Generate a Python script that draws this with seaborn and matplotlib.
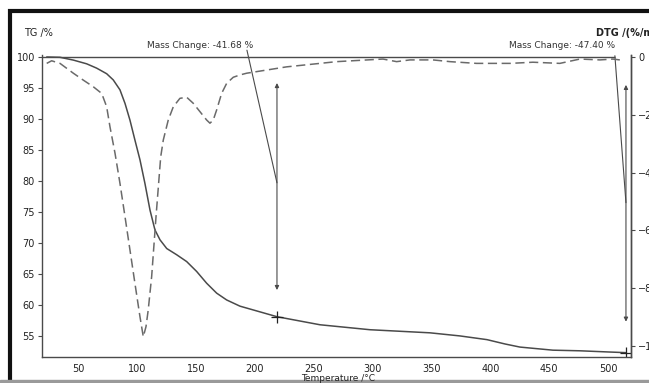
import numpy as np
import pandas as pd
import matplotlib.pyplot as plt
import seaborn as sns
from matplotlib.patches import Rectangle

# TG curve (solid), temperature in degC, mass in %
tg_temp = [23.4, 34.7, 46.0, 57.3, 65.8, 74.3, 79.9, 85.6, 89.9, 94.1,
           98.3, 102.6, 106.8, 111.1, 115.3, 119.6, 125.3, 133.7, 142.2,
           150.7, 159.2, 167.7, 176.2, 187.5, 218.9, 255.4, 297.8, 348.8,
           374.2, 397.2, 412.5, 425.2, 453.2, 476.1, 501.6, 515.2]
tg_mass = [100.0, 99.95, 99.5, 98.9, 98.2, 97.3, 96.3, 94.7, 92.5, 89.8,
           86.6, 83.4, 79.6, 75.3, 72.1, 70.5, 69.1, 68.1, 67.0,
           65.4, 63.5, 61.9, 60.8, 59.8, 58.1, 56.8, 56.0, 55.5,
           55.0, 54.4, 53.7, 53.2, 52.7, 52.6, 52.4, 52.3]

# DTG curve (dashed), %/min
dtg_temp = [23.4, 27.6, 34.7, 46.0, 54.5, 63.0, 70.1, 74.3, 77.1, 81.4,
            85.6, 89.9, 94.1, 98.3, 102.6, 105.4, 107.7, 109.6, 112.5,
            116.2, 120.2, 122.4, 126.6, 130.9, 136.5, 142.2, 147.8, 153.5,
            159.2, 162.0, 164.8, 167.7, 171.9, 176.2, 181.8, 187.5, 193.2,
            227.1, 269.6, 308.9, 320.5, 331.8, 351.3, 365.8, 388.4, 416.8,
            436.2, 459.1, 476.1, 493.1, 504.2, 510.0]
dtg_rate = [-0.22, -0.13, -0.22, -0.56, -0.80, -1.03, -1.26, -1.72, -2.41, -3.33,
            -4.37, -5.53, -6.68, -7.83, -8.99, -9.68, -9.33, -8.75, -7.60,
            -5.53, -3.45, -2.87, -2.18, -1.72, -1.43, -1.39, -1.60, -1.89,
            -2.18, -2.29, -2.18, -1.83, -1.26, -0.91, -0.70, -0.62, -0.56,
            -0.34, -0.16, -0.07, -0.16, -0.10, -0.10, -0.16, -0.22, -0.22,
            -0.18, -0.22, -0.07, -0.10, -0.07, -0.10]

x_ticks = [50, 100, 150, 200, 250, 300, 350, 400, 450, 500]
tg_ticks = [55, 60, 65, 70, 75, 80, 85, 90, 95, 100]
dtg_ticks = [0, -2, -4, -6, -8, -10]

mass_changes = ["Mass Change: -41.68 %", "Mass Change: -47.40 %"]

sns.set_style("white")
plt.rcParams['font.family'] = ['DejaVu Sans']
ink = '#4a4a4a'

fig = plt.figure(figsize=(6.49, 3.83), dpi=100)
ax = fig.add_axes([0.0647, 0.0679, 0.9076, 0.7885])
ax2 = ax.twinx()

tg = pd.DataFrame({'T': tg_temp, 'TG': tg_mass})
dtg = pd.DataFrame({'T': dtg_temp, 'DTG': dtg_rate})
sns.lineplot(data=tg, x='T', y='TG', ax=ax, color=ink, lw=1.1)
sns.lineplot(data=dtg, x='T', y='DTG', ax=ax2, color='#6a6a6a', lw=1.1,
             dashes=False, linestyle=(0, (6, 3)))

ax.set_xlim(19.4, 519.5)
ax.set_ylim(51.6, 100.32)
ax2.set_ylim(-10.38, 0.07)
ax.set_xticks(x_ticks)
ax.set_yticks(tg_ticks)
ax2.set_yticks(dtg_ticks)
ax.set_xlabel('')
ax.set_ylabel('')
ax2.set_ylabel('')

for a in (ax, ax2):
    a.spines['top'].set_visible(False)
    for s in a.spines.values():
        s.set_color(ink)
        s.set_linewidth(1.0)
ax2.spines['left'].set_visible(False)
ax2.spines['bottom'].set_visible(False)
ax.tick_params(axis='both', labelsize=7, colors='#222222', length=3,
               width=0.8, pad=2, direction='out')
ax.tick_params(axis='both', color=ink)
ax2.tick_params(axis='y', labelsize=7, colors='#222222', length=3,
                width=0.8, pad=2, color=ink)

# mass change reference line and annotations
ax.hlines(100, 19.4, 505.8, color=ink, lw=1.0)
ax.plot([193.4, 218.9], [101.1, 79.7], color=ink, lw=0.8, clip_on=False)
ax.plot([505.8, 515.2], [100.2, 76.5], color=ink, lw=0.8, clip_on=False)
ax.annotate('', xy=(218.9, 62.4), xytext=(218.9, 95.8),
            arrowprops=dict(arrowstyle='<|-|>', mutation_scale=6, lw=0.8,
                            color=ink, shrinkA=0, shrinkB=0))
ax.annotate('', xy=(515.2, 57.3), xytext=(515.2, 95.5),
            arrowprops=dict(arrowstyle='<|-|>', mutation_scale=6, lw=0.8,
                            color=ink, shrinkA=0, shrinkB=0))
ax.plot([218.9, 515.2], [58.1, 52.3], '+', color='#222222', ms=8, mew=0.9)

ax.text(153.5, 101.9, mass_changes[0], fontsize=6.5, color='#333333',
        ha='center', va='center')
ax.text(461.0, 101.9, mass_changes[1], fontsize=6.5, color='#333333',
        ha='center', va='center')

fig.text(0.060, 0.914, 'TG /%', fontsize=7, color='#222222', ha='center',
         va='center')
fig.text(0.918, 0.914, 'DTG /(%/min)', fontsize=7, color='#222222',
         ha='left', va='center', fontweight='bold')
fig.text(0.521, 0.0105, 'Temperature /°C', fontsize=6.5, color='#222222',
         ha='center', va='center')

# screenshot frame
fig.patches.append(Rectangle((10 / 649, -0.05), 1.1, 1 - 11 / 383 + 0.05,
                             transform=fig.transFigure, fill=False,
                             edgecolor='#111111', lw=3, zorder=0))
fig.patches.append(Rectangle((0, 0), 1, 3 / 383, transform=fig.transFigure,
                             color='#9a9a9a', zorder=0))

fig.savefig('out.png', dpi=100)
